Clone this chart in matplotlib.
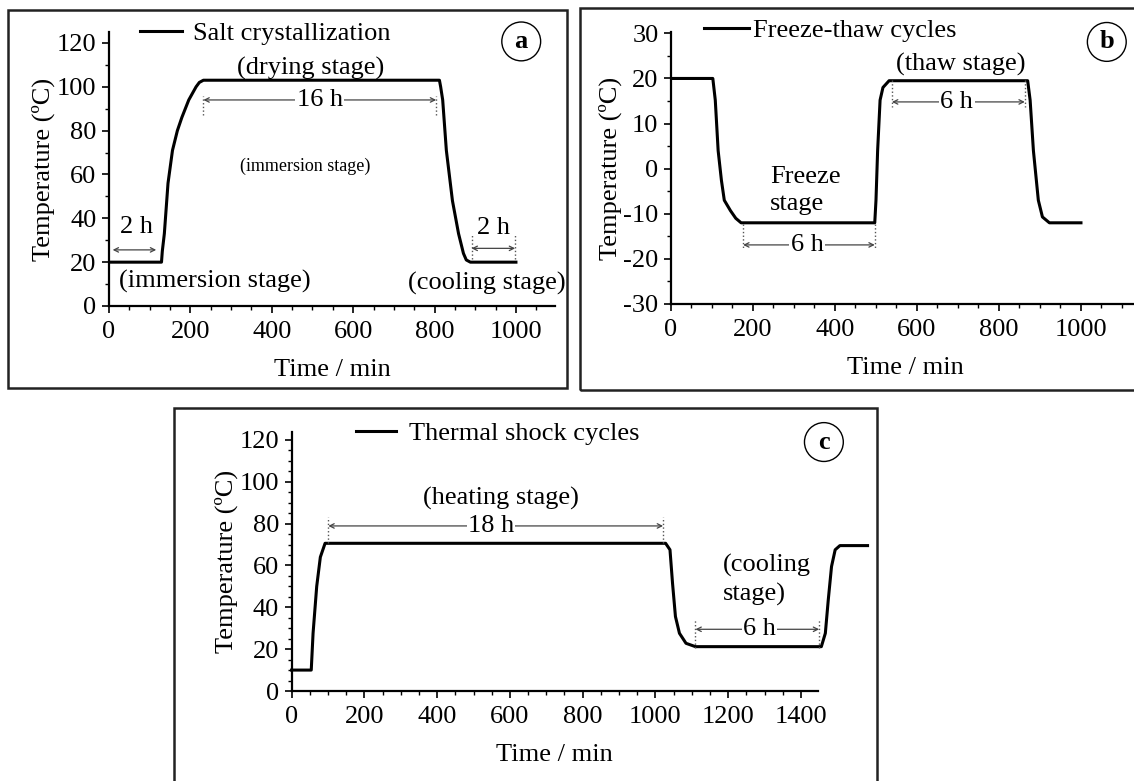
import matplotlib
matplotlib.use("Agg")
import matplotlib.pyplot as plt
from matplotlib.patches import Rectangle
from matplotlib.ticker import MultipleLocator

plt.rcParams["font.family"] = ["Liberation Serif", "DejaVu Serif"]
plt.rcParams["axes.unicode_minus"] = False

W, H = 1134, 781

# (a) salt crystallization
salt_t = [0, 129, 131, 136, 145, 156, 168, 179, 196, 214, 222, 232, 812, 815, 820, 829, 844, 859, 871, 878, 888, 1000]
salt_T = [20, 20, 25, 33, 56, 71, 80, 86, 94, 100, 102, 103, 103, 100, 94, 71, 48, 33, 24, 21, 20, 20]

# (b) freeze-thaw cycles
ft_t = [0, 102, 108, 115, 123, 130, 145, 158, 171, 497, 500, 504, 510, 517, 532, 870, 876, 884, 896, 906, 923, 1000]
ft_T = [20, 20, 15.2, 4, -2.6, -7, -9.3, -11, -12, -12, -7, 4, 15.2, 18, 19.5, 19.5, 15.2, 4, -7, -10.7, -12, -12]

# (c) thermal shock cycles
ts_t = [0, 54, 59, 69, 79, 92, 1028, 1040, 1047, 1055, 1066, 1084, 1110, 1456, 1467, 1475, 1484, 1494, 1507, 1583]
ts_T = [10, 10, 27.6, 50, 64, 70.6, 70.6, 67.5, 51.5, 35.6, 27.6, 22.8, 21.2, 21.2, 27.6, 43.5, 59.5, 67.5, 69.5, 69.5]

# duration spans: (start, end, level, label)
salt_spans = [(9, 116, 25.6, "2 h"), (232, 804, 94, "16 h"), (891, 998, 26.3, "2 h")]
ft_spans = [(176, 497, -16.9, "6 h"), (539, 863, 14.8, "6 h")]
ts_spans = [(101, 1021, 78.9, "18 h"), (1110, 1450, 29.5, "6 h")]

fs = 19


def px_axes(fig, left, right, top, bottom):
    return fig.add_axes([left / W, 1 - bottom / H, (right - left) / W, (bottom - top) / H])


def frame(fig, left, right, top, bottom):
    fig.patches.append(Rectangle((left / W, 1 - bottom / H), (right - left) / W, (bottom - top) / H,
                                 transform=fig.transFigure, fill=False, lw=1.8, ec="#222222"))


def style(ax, ymin):
    for s in ["top", "right"]:
        ax.spines[s].set_visible(False)
    for s in ["left", "bottom"]:
        ax.spines[s].set_linewidth(1.6)
    ax.xaxis.set_minor_locator(MultipleLocator(50))
    ax.yaxis.set_minor_locator(MultipleLocator(ymin))
    ax.tick_params(which="major", length=5, width=1.2, labelsize=fs)
    ax.tick_params(axis="x", which="major", pad=6)
    ax.tick_params(axis="y", which="major", pad=4)
    ax.tick_params(which="minor", length=3, width=1.0)
    ax.set_xlabel("Time / min", fontsize=fs, labelpad=11)
    ax.set_ylabel("Temperature (ºC)", fontsize=fs, labelpad=1)


def span(ax, x0, x1, y, dy0, dy1):
    ax.annotate("", xy=(x0, y), xytext=(x1, y),
                arrowprops=dict(arrowstyle="<->", color="#444444", lw=0.9, shrinkA=0, shrinkB=0,
                                mutation_scale=8), annotation_clip=False)
    for x in (x0, x1):
        ax.plot([x, x], [y + dy0, y + dy1], ls=":", color="#555555", lw=1.0, clip_on=False)


def mid_label(ax, x, y, s):
    ax.text(x, y, s, fontsize=fs, ha="center", va="center", bbox=dict(fc="white", ec="none", pad=1))


def circle_label(ax, x, y, s):
    ax.text(x, y, s, fontsize=fs, fontweight="bold", ha="center", va="center",
            bbox=dict(boxstyle="circle,pad=0.3", fc="white", ec="black", lw=1.0))


fig = plt.figure(figsize=(W / 100, H / 100), dpi=100)
frame(fig, 8, 567, 10, 388)
frame(fig, 580, 1140, 8, 390)
frame(fig, 174, 877, 408, 790)

# ---- panel a
ax = px_axes(fig, 109, 555, 32, 306)
ax.plot(salt_t, salt_T, color="black", lw=2.2, label="Salt crystallization")
ax.set_xlim(0, 1096)
ax.set_ylim(0, 125)
ax.set_xticks(range(0, 1001, 200))
ax.set_yticks(range(0, 121, 20))
style(ax, 10)
ax.legend(loc="center left", bbox_to_anchor=(76 / 1096, 124.5 / 125), frameon=False, fontsize=fs,
          handlelength=1.6, handletextpad=0.4, borderpad=0, borderaxespad=0)
x0, x1, y, lab = salt_spans[0]
span(ax, x0, x1, y, 0, 0)
ax.text(67, 36, lab, fontsize=fs, ha="center", va="center")
x0, x1, y, lab = salt_spans[1]
span(ax, x0, x1, y, -7, 2)
mid_label(ax, 518, y, lab)
x0, x1, y, lab = salt_spans[2]
span(ax, x0, x1, y, -5, 6)
ax.text(946, 35.5, lab, fontsize=fs, ha="center", va="center")
ax.text(496, 108.5, "(drying stage)", fontsize=fs, ha="center", va="center")
ax.text(482, 63.6, "(immersion stage)", fontsize=13, ha="center", va="center")
ax.text(259, 11, "(immersion stage)", fontsize=fs, ha="center", va="center")
ax.text(929, 10.4, "(cooling stage)", fontsize=fs, ha="center", va="center")
circle_label(ax, 1013, 120.7, "a")

# ---- panel b
ax = px_axes(fig, 671, 1140, 32, 304)
ax.plot(ft_t, ft_T, color="black", lw=2.2, label="Freeze-thaw cycles")
ax.set_xlim(0, 1144)
ax.set_ylim(-30, 30.3)
ax.set_xticks(range(0, 1001, 200))
ax.set_yticks(range(-30, 31, 10))
style(ax, 5)
ax.legend(loc="center left", bbox_to_anchor=(80 / 1144, (30.7 + 30) / 60.3), frameon=False, fontsize=fs,
          handlelength=1.7, handletextpad=0.15, borderpad=0, borderaxespad=0)
x0, x1, y, lab = ft_spans[0]
span(ax, x0, x1, y, 4.7, -0.9)
mid_label(ax, 332, y, lab)
x0, x1, y, lab = ft_spans[1]
span(ax, x0, x1, y, 4.8, -1.1)
mid_label(ax, 697, y, lab)
ax.text(241, -4.8, "Freeze\nstage", fontsize=fs, ha="left", va="center", linespacing=1.3)
ax.text(706, 23, "(thaw stage)", fontsize=fs, ha="center", va="center")
circle_label(ax, 1063, 28.1, "b")

# ---- panel c
ax = px_axes(fig, 291.6, 817.7, 432, 691)
ax.plot(ts_t, ts_T, color="black", lw=2.2, label="Thermal shock cycles", clip_on=False)
ax.set_xlim(0, 1446)
ax.set_ylim(0, 123.8)
ax.set_xticks(range(0, 1401, 200))
ax.set_yticks(range(0, 121, 20))
style(ax, 5)
ax.legend(loc="center left", bbox_to_anchor=(177 / 1446, 123.2 / 123.8), frameon=False, fontsize=fs,
          handlelength=1.5, handletextpad=0.5, borderpad=0, borderaxespad=0)
x0, x1, y, lab = ts_spans[0]
span(ax, x0, x1, y, -8.3, 4.5)
mid_label(ax, 548, y, lab)
x0, x1, y, lab = ts_spans[1]
span(ax, x0, x1, y, -9.1, 4.5)
mid_label(ax, 1286, y, lab)
ax.text(574, 92.1, "(heating stage)", fontsize=fs, ha="center", va="center")
ax.text(1185, 53, "(cooling\nstage)", fontsize=fs, ha="left", va="center", linespacing=1.3)
circle_label(ax, 1463, 119, "c")

fig.savefig("out.png", dpi=100)
